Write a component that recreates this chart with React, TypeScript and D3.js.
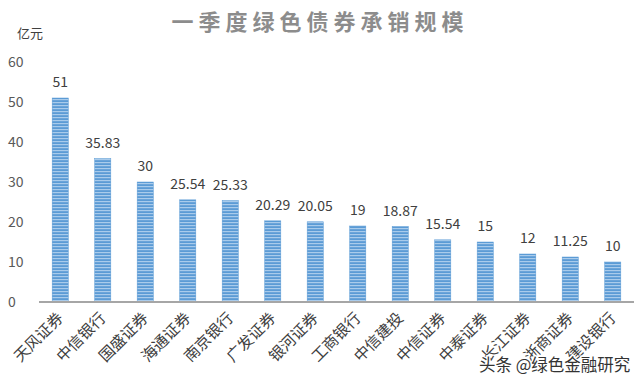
import React from "react";
import * as d3 from "d3";

const categories = ["天风证券","中信银行","国盛证券","海通证券","南京银行","广发证券","银河证券","工商银行","中信建投","中信证券","中泰证券","长江证券","浙商证券","建设银行"];
const values = [51, 35.83, 30, 25.54, 25.33, 20.29, 20.05, 19, 18.87, 15.54, 15, 12, 11.25, 10];
const yTicks = [0, 10, 20, 30, 40, 50, 60];
const title = "一季度绿色债券承销规模";
const unit = "亿元";
const watermark = "头条 @绿色金融研究";

const W = 640, H = 385;
const FONT = "'Noto Sans CJK SC', 'Noto Sans', sans-serif";

export default function App() {
  const x = d3.scaleBand<string>().domain(categories).range([39, 634]).paddingInner(0.62).paddingOuter(0.31);
  const y = d3.scaleLinear().domain([0, 60]).range([302, 62]);
  return (
    <svg width={W} height={H} style={{ position: "absolute", left: 0, top: 0, background: "#fff" }}>
      <defs>
        <pattern id="stripes" width="4" height="3" patternUnits="userSpaceOnUse">
          <rect width="4" height="3" fill="#5B9BD5" />
          <rect y="0" width="4" height="1.2" fill="#A9CBEB" />
        </pattern>
      </defs>
      <text x={320} y={30} textAnchor="middle" fontFamily={FONT} fontSize={22} fontWeight="bold" fill="#8C8C8C" letterSpacing={5}>{title}</text>
      <text x={17} y={38} fontFamily={FONT} fontSize={13} fill="#404040">{unit}</text>
      {yTicks.map(t => (
        <text key={t} x={8} y={y(t) + 5} fontFamily={FONT} fontSize={14} fill="#595959">{t}</text>
      ))}
      {categories.map((c, i) => {
        const bx = x(c)!;
        const bw = x.bandwidth();
        return (
          <g key={c}>
            <rect x={bx} y={y(values[i])} width={bw} height={y(0) - y(values[i])} fill="url(#stripes)" stroke="#5B9BD5" strokeWidth={0.5} />
            <text x={bx + bw / 2} y={y(values[i]) - 11} textAnchor="middle" fontFamily={FONT} fontSize={14} fill="#404040">{values[i]}</text>
            <text transform={`translate(${bx + bw / 2 + 4},${319}) rotate(-45)`} textAnchor="end" fontFamily={FONT} fontSize={15.5} fill="#404040">{c}</text>
          </g>
        );
      })}
      <line x1={39} x2={634} y1={y(0)} y2={y(0)} stroke="#A6A6A6" strokeWidth={2} />
      <text x={479} y={371} fontFamily={FONT} fontSize={16.5} fill="#333" stroke="#fff" strokeWidth={3} paintOrder="stroke">{watermark}</text>
    </svg>
  );
}
